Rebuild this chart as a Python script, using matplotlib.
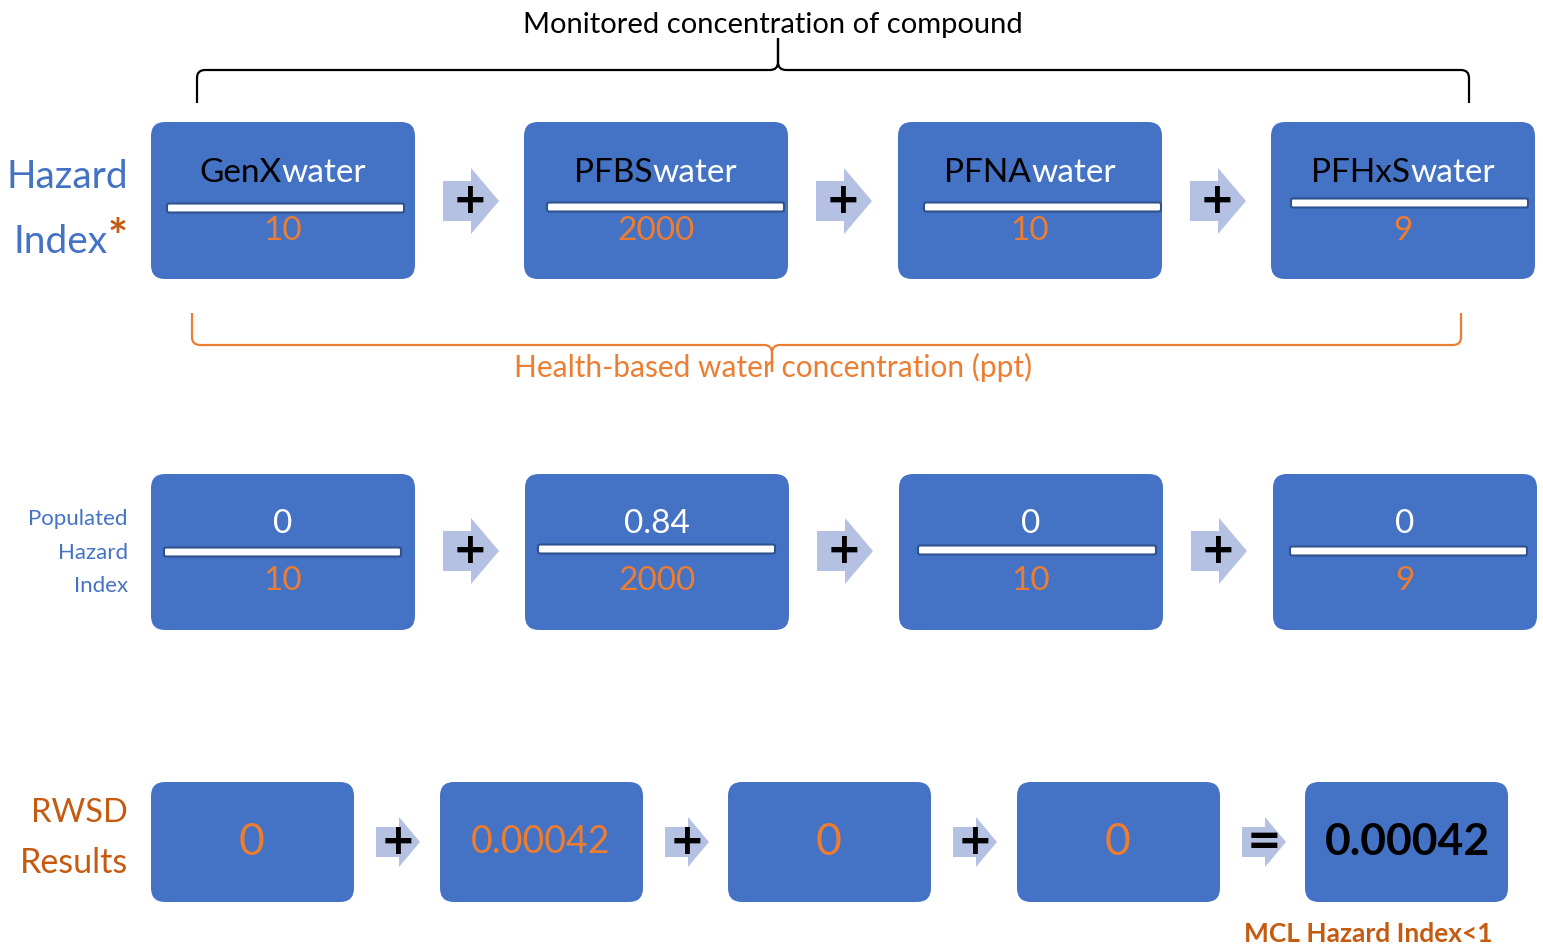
import matplotlib
matplotlib.use("Agg")
import matplotlib.pyplot as plt
from matplotlib.patches import FancyBboxPatch, Polygon, PathPatch
from matplotlib.path import Path
from matplotlib.offsetbox import TextArea, HPacker, AnnotationBbox

# data
compounds = ["GenX", "PFBS", "PFNA", "PFHxS"]
health_based = ["10", "2000", "10", "9"]
monitored = ["0", "0.84", "0", "0"]
rwsd_results = ["0", "0.00042", "0", "0"]
hazard_index_total = "0.00042"

title_top = "Monitored concentration of compound"
title_bottom = "Health-based water concentration (ppt)"
mcl_note = "MCL Hazard Index<1"

# colours
BOX = "#4472C4"
ARROW = "#B4C1E2"
ORANGE = "#ED7D31"
RUST = "#C55A11"
LABEL_BLUE = "#4472C4"
BAR_EDGE = "#2F528F"
FONT = "Lato"

plt.rcParams['font.family'] = [FONT, 'DejaVu Sans']

fig = plt.figure(figsize=(15.43, 9.46), dpi=100)
ax = fig.add_axes([0, 0, 1, 1])
ax.set_xlim(0, 1543)
ax.set_ylim(946, 0)
ax.axis('off')


def box(x, y, w, h):
    ax.add_patch(FancyBboxPatch((x, y), w, h, boxstyle="round,pad=0,rounding_size=14",
                                fc=BOX, ec="none", zorder=2))


def bar(x0, x1, yc):
    ax.add_patch(FancyBboxPatch((x0, yc - 4.5), x1 - x0, 9, boxstyle="round,pad=0,rounding_size=2",
                                fc="white", ec=BAR_EDGE, lw=1.5, zorder=3))


def arrow(x, cy, length, body, h1, h2, sign, size):
    pts = [(x, cy - h1), (x + body, cy - h1), (x + body, cy - h2), (x + length, cy),
           (x + body, cy + h2), (x + body, cy + h1), (x, cy + h1)]
    ax.add_patch(Polygon(pts, closed=True, fc=ARROW, ec="none", zorder=2))
    ax.text(x + body - 1, cy, sign, ha='center', va='center', fontsize=size,
            fontweight='bold', color='black', family='DejaVu Sans', zorder=4)


def two_tone(x, y, parts, size, align=0.5):
    kids = [TextArea(t, textprops=dict(color=c, fontsize=s, fontweight=w, family=[FONT, 'DejaVu Sans']))
            for t, c, s, w in [(p + (size, 'normal'))[:4] for p in parts]]
    pack = HPacker(children=kids, align="baseline", pad=0, sep=0)
    ab = AnnotationBbox(pack, (x, y), xycoords='data', box_alignment=(align, 0.5),
                        frameon=False, pad=0, zorder=5)
    ax.add_artist(ab)


def brace(x0, x1, xm, y_line, y_end, y_tip, color, r=8):
    s_end = 1 if y_end > y_line else -1
    s_tip = 1 if y_tip > y_line else -1
    verts = [(x0, y_end), (x0, y_line + s_end * r), (x0, y_line), (x0 + r, y_line),
             (xm - r, y_line), (xm, y_line), (xm, y_line + s_tip * r), (xm, y_tip),
             (xm, y_line + s_tip * r), (xm, y_line), (xm + r, y_line),
             (x1 - r, y_line), (x1, y_line), (x1, y_line + s_end * r), (x1, y_end)]
    codes = [Path.MOVETO, Path.LINETO, Path.CURVE3, Path.CURVE3,
             Path.LINETO, Path.CURVE3, Path.CURVE3, Path.LINETO,
             Path.LINETO, Path.CURVE3, Path.CURVE3,
             Path.LINETO, Path.CURVE3, Path.CURVE3, Path.LINETO]
    ax.add_patch(PathPatch(Path(verts, codes), fc='none', ec=color, lw=1.6, zorder=1))


# top braces and titles
brace(197, 1469, 778, 70, 103, 38, 'black')
ax.text(773, 25, title_top, ha='center', va='center', fontsize=21, color='black')
brace(192, 1461, 772, 345, 313, 372, ORANGE)
ax.text(773, 367, title_bottom, ha='center', va='center', fontsize=21.5, color=ORANGE)

# row 1: hazard index formula
two_tone(128, 177, [("Hazard", LABEL_BLUE)], 28, align=1.0)
two_tone(128, 239, [("Index", LABEL_BLUE), ("*", RUST, 34, 'bold')], 28, align=1.0)

r1_left = [151, 524, 898, 1271]
r1_bar = [(167, 404, 208), (547, 784, 207), (924, 1161, 207), (1291, 1528, 203)]
for i, name in enumerate(compounds):
    x = r1_left[i]
    box(x, 122, 264, 157)
    bar(*r1_bar[i])
    two_tone(x + 132, 173, [(name, 'black'), ("water", 'white')], 24)
    ax.text(x + 132, 231, health_based[i], ha='center', va='center', fontsize=24, color=ORANGE, zorder=5)
    if i < 3:
        arrow(x + 292, 201, 56, 28, 20, 33, "+", 30)

# row 2: populated hazard index
for k, word in enumerate(["Populated", "Hazard", "Index"]):
    ax.text(128, 519 + 33.5 * k, word, ha='right', va='center', fontsize=16, color=LABEL_BLUE)

r2_left = [151, 525, 899, 1273]
r2_bar = [(164, 401, 552), (538, 775, 549), (918, 1156, 550), (1290, 1527, 551)]
for i in range(len(compounds)):
    x = r2_left[i]
    box(x, 474, 264, 156)
    bar(*r2_bar[i])
    ax.text(x + 132, 524, monitored[i], ha='center', va='center', fontsize=24, color='white', zorder=5)
    ax.text(x + 132, 581, health_based[i], ha='center', va='center', fontsize=24, color=ORANGE, zorder=5)
    if i < 3:
        arrow(x + 292, 551, 56, 28, 20, 33, "+", 30)

# row 3: RWSD results
ax.text(128, 813, "RWSD", ha='right', va='center', fontsize=23.5, color=RUST)
ax.text(128, 863, "Results", ha='right', va='center', fontsize=24.5, color=RUST)

r3_left = [151, 440, 728, 1017, 1305]
for i, val in enumerate(rwsd_results):
    x = r3_left[i]
    box(x, 782, 203, 120)
    size = 32 if len(val) == 1 else 27
    ax.text(x + 101, 842, val, ha='center', va='center', fontsize=size, color=ORANGE, zorder=5)
    sign = "+" if i < 3 else "="
    arrow(x + 225, 842, 44, 23, 15, 25, sign, 30)

box(r3_left[4], 782, 203, 120)
ax.text(r3_left[4] + 102, 842, hazard_index_total, ha='center', va='center', fontsize=32,
        fontweight='bold', color='black', zorder=5)
ax.text(1368, 934, mcl_note, ha='center', va='center', fontsize=19, fontweight='bold', color=RUST)

fig.savefig("out.png", dpi=100)
